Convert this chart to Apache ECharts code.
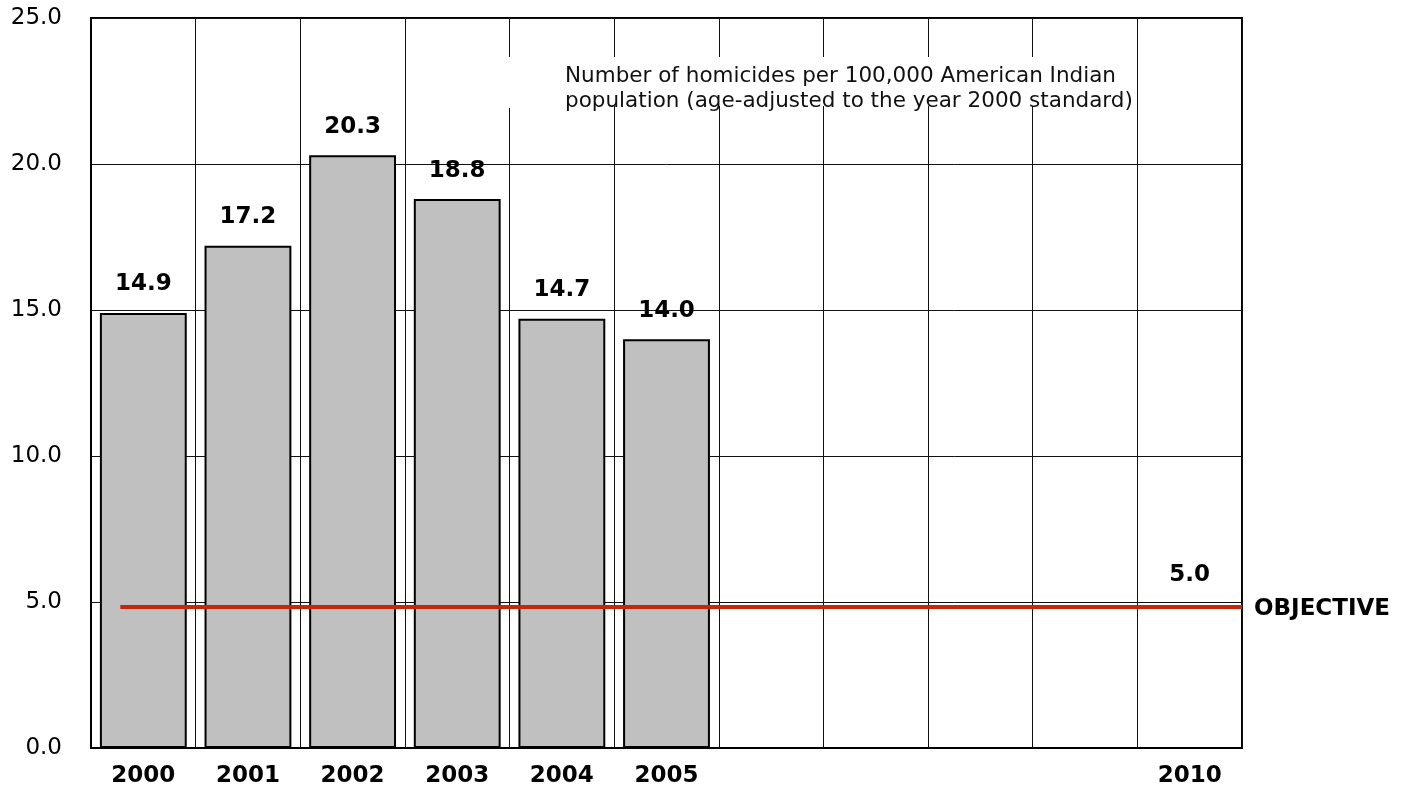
<!DOCTYPE html>
<html>
<head>
<meta charset="utf-8">
<script src="https://cdn.jsdelivr.net/npm/echarts@6/dist/echarts.min.js"></script>
<style>html,body{margin:0;padding:0;background:#fff}#c{width:1410px;height:797px}</style>
</head>
<body>
<div id="c"></div>
<script>
const categories = ['2000','2001','2002','2003','2004','2005','2006','2007','2008','2009','2010'];
const tickLabels = ['2000','2001','2002','2003','2004','2005','','','','','2010'];
const rates = [14.9, 17.2, 20.3, 18.8, 14.7, 14.0, null, null, null, null, null];
const objectiveValue = 5.0;
const objectiveDrawnLevel = 4.83;
const objectiveSpan = [0.28, 11];
const yTicks = [0, 5, 10, 15, 20, 25];
const noteLines = ['Number of homicides per 100,000 American Indian', 'population (age-adjusted to the year 2000 standard)'];

const chart = echarts.init(document.getElementById('c'), null, {renderer: 'canvas'});
const fam = 'DejaVu Sans';
chart.setOption({
  animation: false,
  backgroundColor: '#fff',
  grid: {left: 91, right: 168, top: 18, bottom: 49, show: true, borderColor: '#000', borderWidth: 2, backgroundColor: 'transparent'},
  xAxis: [{
    type: 'category', data: categories, boundaryGap: true,
    axisLine: {show: true, lineStyle: {color: '#000', width: 2}},
    axisTick: {show: false},
    splitLine: {show: true, lineStyle: {color: '#111', width: 1}},
    axisLabel: {interval: 0, margin: 17, fontFamily: fam, fontWeight: 'bold', fontSize: 23, color: '#000',
      formatter: (v, i) => tickLabels[i]}
  }, {
    type: 'value', min: 0, max: categories.length, show: false
  }],
  yAxis: {
    type: 'value', min: yTicks[0], max: yTicks[yTicks.length - 1], interval: 5,
    axisLine: {show: true, lineStyle: {color: '#000', width: 2}},
    axisTick: {show: false},
    splitLine: {show: true, lineStyle: {color: '#111', width: 1}},
    axisLabel: {margin: 29, padding: [5, 0, 0, 0], fontFamily: fam, fontSize: 23, color: '#000', formatter: v => v.toFixed(1)}
  },
  series: [{
    type: 'bar', xAxisIndex: 0, data: rates, barWidth: '83%',
    itemStyle: {color: '#c0c0c0', borderColor: '#000', borderWidth: 2},
    label: {show: true, position: 'top', distance: 17, fontFamily: fam, fontWeight: 'bold', fontSize: 23, color: '#000',
      formatter: p => p.value.toFixed(1)},
    z: 2
  }, {
    type: 'line', xAxisIndex: 1, data: objectiveSpan.map(x => [x, objectiveDrawnLevel]),
    showSymbol: false, symbol: 'none',
    lineStyle: {color: '#c8260a', width: 4},
    endLabel: {show: true, formatter: 'OBJECTIVE', distance: 12, offset: [0, 2], fontFamily: fam, fontWeight: 'bold', fontSize: 23, color: '#000'},
    z: 3
  }, {
    type: 'scatter', xAxisIndex: 0, data: [[categories[categories.length - 1], objectiveDrawnLevel]],
    symbolSize: 0, itemStyle: {color: '#000', opacity: 1},
    label: {show: true, position: 'top', distance: 20, fontFamily: fam, fontWeight: 'bold', fontSize: 23, color: '#000', opacity: 1,
      formatter: () => objectiveValue.toFixed(1)},
    z: 4
  }],
  graphic: [
    {type: 'rect', left: 506, top: 57, shape: {width: 625, height: 49}, style: {fill: '#fff'}, z: 10},
    {type: 'rect', left: 506, top: 100, shape: {width: 10, height: 8}, style: {fill: '#fff'}, z: 10},
    {type: 'text', left: 565, top: 64, z: 11,
      style: {text: noteLines.join('\n'), font: '21.5px "DejaVu Sans", Verdana, sans-serif', fill: '#111', lineHeight: 25}}
  ]
});
</script>
</body>
</html>
